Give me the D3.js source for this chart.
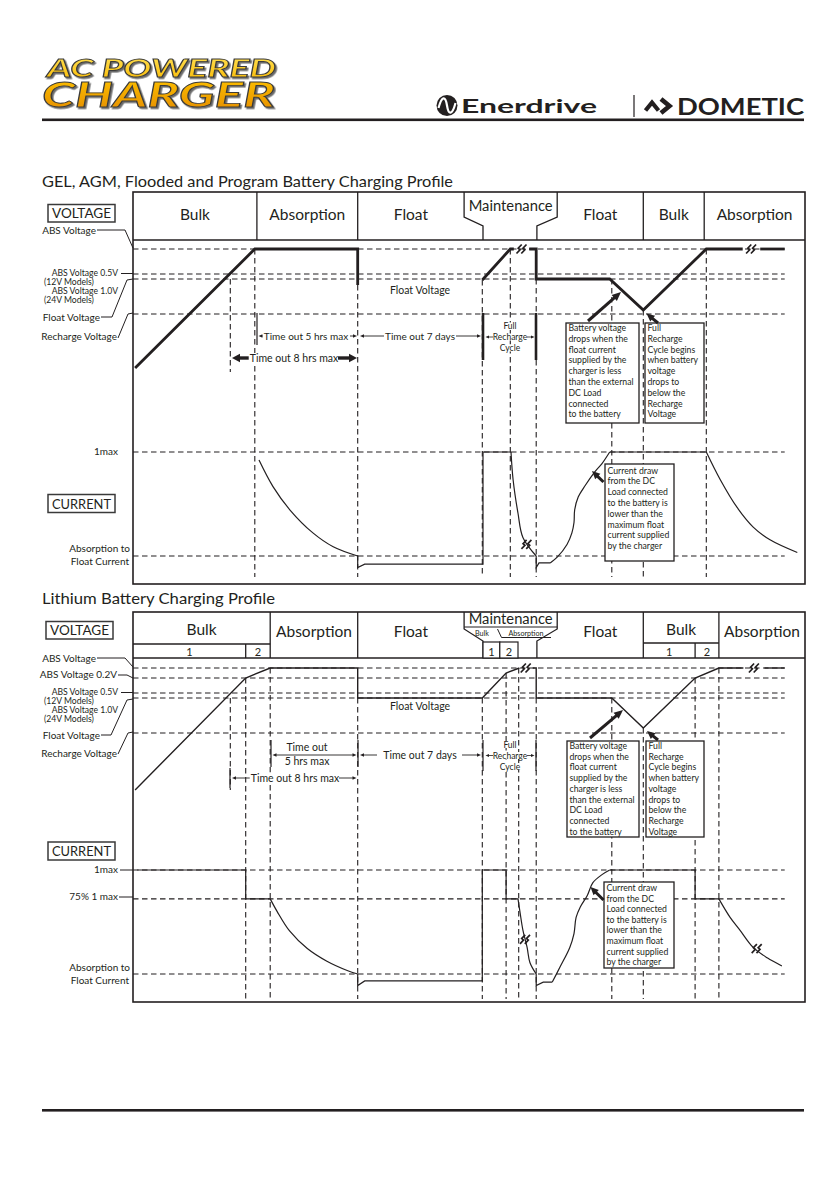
<!DOCTYPE html>
<html>
<head>
<meta charset="utf-8">
<script src="https://cdn.jsdelivr.net/npm/d3@7"></script>
<style>
  body { margin: 0; background: #fff; }
  svg { display: block; background: #fff; }
  text { font-family: Lato, 'Open Sans', sans-serif; fill: #231f20; }
</style>
</head>
<body>
<svg id="chart" width="840" height="1192"></svg>
<script>
// ---------- data ----------
// time runs left to right in arbitrary units (0 - 96 across the frame)
// voltage in volts (12V models), current as a fraction of Imax

const phaseNames = ['Bulk', 'Absorption', 'Float', 'Maintenance', 'Float', 'Bulk', 'Absorption']
const gelPhaseEdges = [0, 17.7, 32.1, 47.3, 60.6, 72.9, 81.6, 96]
const liPhaseEdges = [0, 19.6, 32.1, 47.3, 60.6, 72.9, 83.7, 96]
const liBulkSplits = [16.1, 80.3] // Bulk 1 | 2 split
const liMaintSteps = [50, 52.4, 55] // small 1 | 2 boxes inside Maintenance
const stepNames = ['1', '2']

const gelVoltLevels = [14.4, 13.9, 13.8, 13.1]
const liVoltLevels = [14.4, 14.2, 13.9, 13.8, 13.1]
const gelCurrLevels = [1, 0.1]
const liCurrLevels = [1, 0.75, 0.1]

// [time, volts]
const gelVoltage = [
  [[0.3, 12.02], [17.4, 14.4], [32.1, 14.4], [32.1, 13.68]],
  [[49.9, 13.78], [53.9, 14.4], [54.4, 14.4]],
  [[56.6, 14.4], [57.6, 14.4], [57.6, 13.8], [68.1, 13.8], [72.9, 13.18], [81.9, 14.4], [87.1, 14.4]],
  [[89.6, 14.4], [93.1, 14.4]]
]
const gelVoltBreaks = [[55.5, 14.4], [88.3, 14.4]]

const liVoltage = [
  [[0.3, 11.96], [16.1, 14.2], [19.6, 14.4], [32.1, 14.4], [32.1, 13.8], [49.9, 13.8], [53.3, 14.3], [55.2, 14.4]],
  [[57.1, 14.4], [57.6, 14.4], [57.6, 13.8], [68.4, 13.8], [72.9, 13.2], [80.3, 14.2], [83.7, 14.4], [87.2, 14.4]],
  [[90.2, 14.4], [93.1, 14.4]]
]
const liVoltBreaks = [[56.1, 14.4], [88.7, 14.4]]

// [time, fraction of Imax]
const gelCurrentSteps = [
  [[32.1, 0.1], [32.1, 0], [33.1, 0.03], [50, 0.03], [50, 1], [54, 1]],
  [[57.6, 0.1], [57.6, 0], [58, 0.04], [59.6, 0.04]],
  [[68.1, 1], [81.9, 1]]
]
const gelCurrentCurves = [
  [[18, 0.93], [20, 0.7], [22.4, 0.5], [25.7, 0.3], [28.6, 0.18], [32.1, 0.1]],
  [[54, 1], [54.3, 0.76], [55, 0.47], [55.7, 0.26], [57.6, 0.1]],
  [[59.6, 0.04], [60.6, 0.09], [62, 0.2], [62.7, 0.3], [63, 0.39], [63.1, 0.5], [63.6, 0.61], [64.6, 0.71], [66, 0.83], [67, 0.9], [68.1, 1]],
  [[81.9, 1], [83.9, 0.76], [86.3, 0.52], [88.6, 0.35], [91, 0.24], [94.9, 0.13]]
]
const gelCurrBreaks = [[56.2, 0.2]]

const liCurrentSteps = [
  [[0.6, 1], [16.1, 1], [16.1, 0.75], [19.6, 0.75]],
  [[32.1, 0.1], [32.1, 0], [33.1, 0.04], [49.9, 0.04], [49.9, 1], [53.3, 1], [53.3, 0.75], [55, 0.75]],
  [[57.6, 0.1], [57.6, 0], [58.6, 0.03], [59.9, 0.03]],
  [[68.1, 1], [80.3, 1], [80.3, 0.75], [83.7, 0.75]]
]
const liCurrentCurves = [
  [[19.6, 0.75], [20.6, 0.64], [22.4, 0.47], [24.9, 0.32], [27.7, 0.21], [30.6, 0.13], [32.1, 0.1]],
  [[55, 0.75], [55.3, 0.63], [55.7, 0.48], [56.3, 0.33], [56.7, 0.2], [57.6, 0.1]],
  [[59.9, 0.03], [61, 0.16], [62.4, 0.33], [63, 0.45], [63.3, 0.59], [63.9, 0.68], [64.9, 0.78], [65.7, 0.89], [67, 0.96], [68.1, 1]],
  [[83.7, 0.75], [85.3, 0.59], [86.7, 0.48], [88.6, 0.33], [90.6, 0.24], [92.7, 0.17]]
]
const liCurrBreaks = [[56, 0.4], [89.1, 0.32]]

// vertical guide lines [time, volts where they start]
const gelGuides = [[17.4, 14.4], [32.1, 13.68], [49.9, 13.78], [53.9, 14.4], [57.6, 13.8], [68.4, 13.8], [72.9, 13.18], [81.9, 14.4]]
const liGuides = [[16.1, 14.2], [19.6, 14.4], [32.1, 13.8], [49.9, 13.8], [53.3, 14.3], [55.1, 14.4], [57.6, 13.8], [68.4, 13.8], [72.9, 13.2], [80.3, 14.2], [83.7, 14.4]]
const timerStart = 13.9 // 8 hr timer starts here

const dropNote = ['Battery voltage', 'drops when the', 'float current', 'supplied by the', 'charger is less', 'than the external', 'DC Load', 'connected', 'to the battery']
const rechargeNote = ['Full', 'Recharge', 'Cycle begins', 'when battery', 'voltage', 'drops to', 'below the', 'Recharge', 'Voltage']
const loadNote = ['Current draw', 'from the DC', 'Load connected', 'to the battery is', 'lower than the', 'maximum float', 'current supplied', 'by the charger']

// ---------- helpers ----------
const svg = d3.select('#chart')
const ink = '#231f20'
const DASH = '5.5,3.5'
const x = d3.scaleLinear().domain([0, 96]).range([133, 805])
const xEnd = 93.1 // dashed levels stop here

function txt(g, px, py, s, size, anchor = 'middle', bg = false) {
  const t = g.append('text')
    .attr('x', px)
    .attr('y', py)
    .attr('font-size', size)
    .attr('text-anchor', anchor)
    .text(s)
  if (bg) {
    const b = t.node().getBBox()
    g.insert('rect', () => t.node())
      .attr('x', b.x - 1).attr('y', b.y + 1)
      .attr('width', b.width + 2).attr('height', b.height - 2)
      .attr('fill', '#fff')
  }
  return t
}

// stacked lines kept in one text element: rows = [[string, x, y, anchor]]
function stack(g, rows, size, bg = false) {
  const t = g.append('text').attr('font-size', size)
  rows.forEach(([s, px, py, anchor = 'middle']) => {
    t.append('tspan').attr('x', px).attr('y', py).attr('text-anchor', anchor).text(s)
  })
  if (bg) {
    t.selectAll('tspan').each(function () {
      const b = this.getBBox()
      g.insert('rect', () => t.node())
        .attr('x', b.x - 1).attr('y', b.y + 1.5)
        .attr('width', b.width + 2).attr('height', b.height - 3)
        .attr('fill', '#fff')
    })
  }
  return t
}

function path(g, d, w = 1.2, dash = null) {
  return g.append('path')
    .attr('d', d)
    .attr('fill', 'none')
    .attr('stroke', ink)
    .attr('stroke-width', w)
    .attr('stroke-dasharray', dash)
    .attr('stroke-linejoin', 'miter')
}
const poly = (g, pts, w = 1.2, dash = null) => path(g, d3.line()(pts), w, dash)
const dashLine = (g, x1, y1, x2, y2) => poly(g, [[x1, y1], [x2, y2]], 1.1, DASH)

// filled triangle, tip at (px, py)
function head(g, px, py, ang, len, wid) {
  const c = Math.cos(ang), s = Math.sin(ang)
  const bx = px - c * len, by = py - s * len
  g.append('path')
    .attr('d', `M${px},${py}L${bx - s * wid / 2},${by + c * wid / 2}L${bx + s * wid / 2},${by - c * wid / 2}Z`)
    .attr('fill', ink)
}
function arrow(g, x1, y1, x2, y2, w = 0.9, len = 4, wid = 3.5) {
  const ang = Math.atan2(y2 - y1, x2 - x1)
  poly(g, [[x1, y1], [x2 - Math.cos(ang) * len * 0.7, y2 - Math.sin(ang) * len * 0.7]], w)
  head(g, x2, y2, ang, len, wid)
}

// the little "ss" break symbol
function brk(g, px, py) {
  [-2.4, 2.4].forEach(dx => {
    const cx = px + dx
    poly(g, [[cx - 2.6, py + 4.5], [cx + 0.9, py + 0.8], [cx - 0.9, py - 0.8], [cx + 2.6, py - 4.5]], 1.7)
  })
}

function labelBox(g, bx, by, bw, bh, s) {
  g.append('rect').attr('x', bx).attr('y', by).attr('width', bw).attr('height', bh)
    .attr('fill', '#fff').attr('stroke', '#3a3a3a').attr('stroke-width', 1.5)
  txt(g, bx + bw / 2, by + bh / 2 + 5, s, 14).attr('textLength', bw - 8).attr('lengthAdjust', 'spacingAndGlyphs')
}

function note(g, bx, by, bw, bh, lines, base, lh) {
  g.append('rect').attr('x', bx).attr('y', by).attr('width', bw).attr('height', bh)
    .attr('fill', '#fff').attr('stroke', ink).attr('stroke-width', 1.3)
  stack(g, lines.map((s, i) => [s, bx + 2.5, base + i * lh, 'start']), 8.7)
}

// ---------- page header ----------
const defs = svg.append('defs')
const gold = defs.append('linearGradient').attr('id', 'gold')
  .attr('x1', 0).attr('y1', 0).attr('x2', 0).attr('y2', 1)
gold.append('stop').attr('offset', '0%').attr('stop-color', '#ffe45c')
gold.append('stop').attr('offset', '50%').attr('stop-color', '#f9b800')
gold.append('stop').attr('offset', '100%').attr('stop-color', '#e48b00')
defs.append('filter').attr('id', 'shade').attr('x', '-5%').attr('y', '-20%').attr('width', '115%').attr('height', '150%')
  .append('feDropShadow').attr('dx', 1.6).attr('dy', 1.6).attr('stdDeviation', 0.3)
  .attr('flood-color', '#6b6b6b').attr('flood-opacity', 1)

const logo = svg.append('g')
const logoText = logo.append('text')
  .attr('font-family', 'DejaVu Sans').attr('font-weight', 'bold').attr('font-style', 'italic')
  .attr('filter', 'url(#shade)')
  .style('fill', 'url(#gold)').attr('stroke', '#3a3a3a').attr('stroke-width', 0.9)
;[['AC POWERED', 47, 77, 25, 229], ['CHARGER', 42, 107, 35, 233]].forEach(([s, px, py, size, len]) => {
  logoText.append('tspan')
    .attr('x', px).attr('y', py)
    .attr('font-size', size)
    .attr('textLength', len).attr('lengthAdjust', 'spacingAndGlyphs')
    .text(s)
})

// Enerdrive mark
logo.append('circle').attr('cx', 447).attr('cy', 105.5).attr('r', 10.5).attr('fill', ink)
logo.append('path').attr('d', 'M438.5,108 C442,95 445.5,96 447,105.5 C448.5,115 452,116 455.5,103')
  .attr('fill', 'none').attr('stroke', '#fff').attr('stroke-width', 2.2)
logo.append('text').attr('x', 461).attr('y', 113).attr('font-size', 19.5).attr('font-weight', 'bold')
  .attr('textLength', 136).attr('lengthAdjust', 'spacingAndGlyphs').text('Enerdrive')
poly(logo, [[634, 95], [634, 117]], 1.2)
// Dometic mark
poly(logo, [[645.5, 110.5], [652, 102.5], [658.5, 110.5]], 4.2)
poly(logo, [[661, 99], [669.5, 106], [661, 113]], 4.6)
logo.append('text').attr('x', 677).attr('y', 115).attr('font-size', 23).attr('font-weight', 'bold')
  .attr('font-family', "'DejaVu Sans Condensed', 'DejaVu Sans', sans-serif")
  .attr('textLength', 127).attr('lengthAdjust', 'spacingAndGlyphs').text('DOMETIC')

svg.append('rect').attr('x', 42).attr('y', 118.5).attr('width', 762).attr('height', 2.6).attr('fill', ink)
svg.append('rect').attr('x', 42).attr('y', 1109).attr('width', 762).attr('height', 2.6).attr('fill', ink)

// ---------- one charging profile ----------
function drawPanel(p) {
  const g = svg.append('g')
  const lineV = d3.line().x(d => x(d[0])).y(d => p.yV(d[1]))
  const lineI = d3.line().x(d => x(d[0])).y(d => p.yI(d[1]))
  const curveI = d3.line().x(d => x(d[0])).y(d => p.yI(d[1])).curve(d3.curveCatmullRom.alpha(0.5))

  txt(g, 42, p.titleY, p.title, 15, 'start').attr('textLength', p.titleLen).attr('lengthAdjust', 'spacingAndGlyphs')

  // dashed reference levels and guides
  p.voltLevels.forEach(v => dashLine(g, x(0), p.yV(v), x(xEnd), p.yV(v)))
  p.currLevels.forEach(c => dashLine(g, x(0), p.yI(c), x(xEnd), p.yI(c)))
  p.guides.forEach(d => dashLine(g, x(d[0]), p.yV(d[1]), x(d[0]), p.guideEnd))
  dashLine(g, x(timerStart), p.yV(13.8), x(timerStart), p.timerEnd)

  // frame and header row
  g.append('rect').attr('x', x(0)).attr('y', p.top).attr('width', x(96) - x(0)).attr('height', p.bottom - p.top)
    .attr('fill', 'none').attr('stroke', ink).attr('stroke-width', 1.6)
  poly(g, [[x(0), p.head], [x(96), p.head]], 1.3)
  const e = p.edges
  ;[1, 2, 5, 6].forEach(i => poly(g, [[x(e[i]), p.top], [x(e[i]), p.head]], 1.3))
  // maintenance notch
  poly(g, [[x(e[3]), p.top], [x(e[3]), p.notchA], [x(50), p.notchB], [x(50), p.head]], 1.3)
  poly(g, [[x(e[4]), p.top], [x(e[4]), p.notchA], [x(57.7), p.notchB], [x(57.7), p.head]], 1.3)
  phaseNames.forEach((name, i) => {
    const cx = (x(e[i]) + x(e[i + 1])) / 2
    if (i === 3) txt(g, cx, p.maintY, name, 14.5).attr('textLength', 84).attr('lengthAdjust', 'spacingAndGlyphs')
    else txt(g, cx, p.labelY[i], name, 15.5)
  })

  // voltage trace
  p.volt.forEach(s => path(g, lineV(s), p.voltW))
  p.voltBreaks.forEach(d => brk(g, x(d[0]), p.yV(d[1])))
  // current trace
  p.currSteps.forEach(s => path(g, lineI(s), 1.2))
  p.currCurves.forEach(s => path(g, curveI(s), 1.2))
  p.currBreaks.forEach(d => brk(g, x(d[0]), p.yI(d[1])))

  // left side labels
  p.leftLabels.forEach(rows => stack(g, rows, 10))
  stack(g, p.modelLabels, 8.6)
  p.leaders.forEach(pts => poly(g, pts, 1))
  labelBox(g, p.voltBox[0], p.voltBox[1], 67, 17.5, 'VOLTAGE')
  labelBox(g, p.currBox[0], p.currBox[1], 67, 18, 'CURRENT')

  txt(g, 420, p.floatTextY, 'Float Voltage', 10.5)
  return g
}

// "Full / <-Recharge-> / Cycle" between the two brackets
function rechargeCycle(g, yTop, yBot, w, yMid) {
  poly(g, [[483, yTop], [483, yBot]], w)
  poly(g, [[536, yTop], [536, yBot]], w)
  stack(g, [['Full', 510, yMid - 8], ['Recharge', 510, yMid + 3], ['Cycle', 510, yMid + 14]], 8.5, true)
  arrow(g, 493, yMid, 485.5, yMid, 0.8, 3.5, 3)
  arrow(g, 527, yMid, 534.5, yMid, 0.8, 3.5, 3)
}

// ---------- GEL / AGM panel ----------
const gel = {
  title: 'GEL, AGM, Flooded and Program Battery Charging Profile', titleY: 187, titleLen: 411,
  top: 192, head: 240, bottom: 584, notchA: 217, notchB: 226,
  labelY: [220, 220, 220, 211, 220, 220, 220], maintY: 211,
  edges: gelPhaseEdges,
  yV: d3.scaleLinear().domain([14.4, 12]).range([249, 369]),
  yI: d3.scaleLinear().domain([1, 0.1]).range([452, 556]),
  voltLevels: gelVoltLevels, currLevels: gelCurrLevels,
  guides: gelGuides, guideEnd: 577, timerEnd: 372,
  volt: gelVoltage, voltBreaks: gelVoltBreaks, voltW: 2.8,
  currSteps: gelCurrentSteps, currCurves: gelCurrentCurves, currBreaks: gelCurrBreaks,
  leftLabels: [
    [['ABS Voltage', 96, 234, 'end']],
    [['Float Voltage', 100, 321, 'end']],
    [['Recharge Voltage', 117, 340, 'end']],
    [['1max', 118, 455, 'end']],
    [['Absorption to', 130, 551.5, 'end'], ['Float Current', 129, 564.5, 'end']]
  ],
  modelLabels: [
    ['ABS Voltage 0.5V', 118, 275.5, 'end'], ['(12V Models)', 44, 284.5, 'start'],
    ['ABS Voltage 1.0V', 118, 293.5, 'end'], ['(24V Models)', 44, 302.5, 'start']
  ],
  leaders: [
    [[97, 230], [125, 230], [133, 248]],
    [[121, 273.5], [133, 273.5]],
    [[101, 317], [112, 317], [127, 280], [133, 279]],
    [[118, 338], [128, 314], [133, 313]]
  ],
  voltBox: [48, 204.5], currBox: [48, 494.5],
  floatTextY: 294
}
const g1 = drawPanel(gel)

// timers
poly(g1, [[257, 313], [257, 345]], 1.2)
arrow(g1, 264, 336, 258.5, 336)
txt(g1, 306, 339.5, 'Time out 5 hrs max', 10, 'middle', true)
arrow(g1, 350, 336, 357, 336)
arrow(g1, 384, 336, 360, 336)
txt(g1, 420, 339.5, 'Time out 7 days', 10, 'middle', true)
arrow(g1, 456, 336, 481, 336)
rechargeCycle(g1, 313, 360, 2.6, 337)
arrow(g1, 250, 358, 232, 358, 3.4, 8, 8.5)
txt(g1, 294, 362, 'Time out 8 hrs max', 10.5, 'middle', true)
arrow(g1, 338, 358, 357, 358, 3.4, 8, 8.5)

// callouts
note(g1, 566, 323, 73, 100, dropNote, 331, 10.8)
arrow(g1, 588, 321, 621, 292, 3, 9, 8)
note(g1, 645, 323, 59, 100, rechargeNote, 331, 10.8)
arrow(g1, 658, 323, 646.5, 313.5, 3, 8, 7.5)
note(g1, 605, 464, 69, 97, loadNote, 473.5, 10.8)
arrow(g1, 603.5, 482, 592, 471, 3, 8, 7.5)

// ---------- Lithium panel ----------
const li = {
  title: 'Lithium Battery Charging Profile', titleY: 604, titleLen: 233,
  top: 612, head: 658, bottom: 1002, notchA: 629, notchB: 641,
  labelY: [635, 637, 637, 624, 637, 635, 637], maintY: 624,
  edges: liPhaseEdges,
  yV: d3.scaleLinear().domain([14.4, 12]).range([668, 788]),
  yI: d3.scaleLinear().domain([1, 0.1]).range([870, 974]),
  voltLevels: liVoltLevels, currLevels: liCurrLevels,
  guides: liGuides, guideEnd: 999, timerEnd: 790,
  volt: liVoltage, voltBreaks: liVoltBreaks, voltW: 1.4,
  currSteps: liCurrentSteps, currCurves: liCurrentCurves, currBreaks: liCurrBreaks,
  leftLabels: [
    [['ABS Voltage', 96, 662, 'end']],
    [['ABS Voltage 0.2V', 117, 678, 'end']],
    [['Float Voltage', 100, 739, 'end']],
    [['Recharge Voltage', 117, 757, 'end']],
    [['1max', 118, 873, 'end']],
    [['75% 1 max', 118, 900, 'end']],
    [['Absorption to', 130, 971, 'end'], ['Float Current', 129, 984, 'end']]
  ],
  modelLabels: [
    ['ABS Voltage 0.5V', 118, 694.5, 'end'], ['(12V Models)', 44, 703.5, 'start'],
    ['ABS Voltage 1.0V', 118, 712.5, 'end'], ['(24V Models)', 44, 721.5, 'start']
  ],
  leaders: [
    [[97, 658], [125, 658], [133, 667]],
    [[118, 675], [127, 675], [133, 678]],
    [[121, 692.5], [133, 692.5]],
    [[101, 735], [111, 735], [127, 700], [133, 699]],
    [[118, 754], [128, 733], [133, 732]],
    [[120, 870], [133, 870]],
    [[119, 897], [133, 897]]
  ],
  voltBox: [46, 621.5], currBox: [48, 842],
  floatTextY: 710
}
const g2 = drawPanel(li)

// bulk 1 | 2 sub rows
;[[0, 19.6, liBulkSplits[0], 644], [72.9, 83.7, liBulkSplits[1], 643]].forEach(([a, b, s, yy]) => {
  poly(g2, [[x(a), yy], [x(b), yy]], 1.3)
  poly(g2, [[x(s), yy], [x(s), 658]], 1.3)
  txt(g2, (x(a) + x(s)) / 2, 655.5, stepNames[0], 11)
  txt(g2, (x(s) + x(b)) / 2, 655.5, stepNames[1], 11)
})
// maintenance sub header
poly(g2, [[x(47.3), 627], [x(60.6), 627]], 1.2)
stack(g2, [['Bulk', 482, 635.5], ['Absorption', 526, 635.5]], 7.2)
poly(g2, [[497.5, 629], [501.5, 637.5], [551, 637.5]], 1)
liMaintSteps.slice(0, 2).forEach((s, i) => {
  g2.append('rect').attr('x', x(s)).attr('y', 642).attr('width', x(liMaintSteps[i + 1]) - x(s)).attr('height', 16)
    .attr('fill', '#fff').attr('stroke', ink).attr('stroke-width', 1.2)
  txt(g2, (x(s) + x(liMaintSteps[i + 1])) / 2, 655.5, stepNames[i], 11)
})

// timers
poly(g2, [[271, 740], [271, 767]], 1.2)
poly(g2, [[358, 740], [358, 767]], 1.2)
poly(g2, [[276, 755], [353, 755]], 0.9)
head(g2, 272.5, 755, Math.PI, 4, 3.5)
head(g2, 356.5, 755, 0, 4, 3.5)
stack(g2, [['Time out', 307, 751], ['5 hrs max', 307, 765]], 10.5)
arrow(g2, 377, 755, 360, 755)
txt(g2, 420, 758.5, 'Time out 7 days', 10.5, 'middle', true)
arrow(g2, 462, 755, 481, 755)
rechargeCycle(g2, 740, 771, 1.2, 755.5)
poly(g2, [[230, 768], [230, 788]], 1.2)
arrow(g2, 251, 778, 232, 778)
txt(g2, 295, 781.5, 'Time out 8 hrs max', 10.5, 'middle', true)
arrow(g2, 339, 778, 356.5, 778)

// callouts
note(g2, 567, 741, 72, 96, dropNote, 749, 10.7)
arrow(g2, 590, 738, 623, 710, 3, 9, 8)
note(g2, 646, 741, 58, 96, rechargeNote, 749, 10.7)
arrow(g2, 658, 740, 647, 731, 3, 8, 7.5)
note(g2, 604, 882, 70, 86, loadNote, 891, 10.6)
arrow(g2, 603.5, 900, 590.5, 887, 3, 8, 7.5)
</script>
</body>
</html>
